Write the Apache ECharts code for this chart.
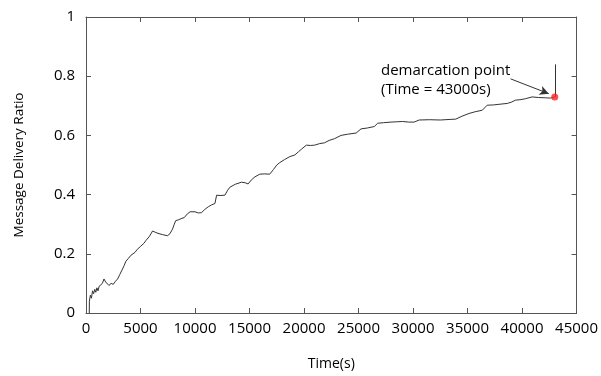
<!DOCTYPE html>
<html>
<head>
<meta charset="utf-8">
<script src="https://cdn.jsdelivr.net/npm/echarts@6/dist/echarts.min.js"></script>
<style>html,body{margin:0;padding:0;background:#fff}#c{width:601px;height:376px}</style>
</head>
<body>
<div id="c"></div>
<script>
var times = [300,310,400,500,600,700,800,900,1000,1100,1200,1350,1500,1650,1800,1950,2100,2300,2500,2700,2900,3100,3300,3500,3660,3900,4120,4300,4500,4700,5030,5300,5500,5800,6000,6100,6400,6700,7000,7470,7700,7930,8100,8230,8500,8800,9000,9300,9550,10000,10300,10600,10900,11220,11500,11830,11980,12300,12740,13000,13200,13700,14270,14600,14870,15180,15500,15940,16400,16850,17200,17500,17770,18200,18680,19160,19500,19750,20210,20600,20970,21400,21880,22300,22800,23400,24000,24780,25230,25800,26450,26750,27300,27980,28500,29040,29600,30100,30260,30560,31500,32500,33400,33920,34500,35130,35700,36350,36800,37400,37880,38640,39000,39400,39900,40320,40920,41500,42150,42600,43000];
var ratios = [0,0.04,0.06,0.05,0.075,0.065,0.08,0.07,0.085,0.075,0.09,0.085,0.1,0.115,0.105,0.1,0.093,0.1,0.097,0.107,0.115,0.13,0.145,0.16,0.175,0.185,0.195,0.2,0.205,0.215,0.226,0.235,0.245,0.258,0.27,0.277,0.272,0.268,0.265,0.261,0.268,0.283,0.3,0.312,0.315,0.32,0.322,0.335,0.342,0.342,0.338,0.339,0.35,0.359,0.365,0.37,0.398,0.397,0.398,0.415,0.425,0.435,0.442,0.44,0.436,0.45,0.46,0.469,0.47,0.469,0.485,0.5,0.508,0.518,0.528,0.534,0.545,0.553,0.567,0.566,0.567,0.572,0.575,0.583,0.589,0.6,0.604,0.608,0.622,0.625,0.63,0.641,0.643,0.645,0.646,0.647,0.645,0.645,0.643,0.652,0.653,0.652,0.654,0.655,0.665,0.674,0.68,0.685,0.702,0.703,0.705,0.708,0.712,0.719,0.721,0.724,0.73,0.728,0.727,0.726,0.73];
var xTicks = [0,5000,10000,15000,20000,25000,30000,35000,40000,45000];
var yTicks = [0,0.2,0.4,0.6,0.8,1];
var demarcation = [43000, 0.73];
var markerTop = 0.84;
var arrowFrom = [38950, 0.791];
var arrowTo = [42450, 0.741];
var labelAt = [27060, 0.786];
var labelLines = ['demarcation point', '(Time = 43000s)'];

var font = 'Open Sans';
var axisColor = '#555';
var lineData = times.map(function(t, i){ return [t, ratios[i]]; });

var chart = echarts.init(document.getElementById('c'), null, {renderer:'canvas'});
function baseAxis(extra){
  return Object.assign({
    type:'value',
    axisLine:{show:true, onZero:false, lineStyle:{color:axisColor, width:1}},
    axisTick:{show:true, inside:true, length:5, lineStyle:{color:axisColor}},
    splitLine:{show:false}
  }, extra);
}
chart.setOption({
  animation:false,
  backgroundColor:'#fff',
  grid:{left:86, right:23, top:17, bottom:58},
  xAxis:[
    baseAxis({min:xTicks[0], max:xTicks[xTicks.length-1], interval:5000, position:'bottom',
      name:'Time(s)', nameLocation:'middle', nameGap:44,
      nameTextStyle:{fontFamily:font, fontSize:14, color:'#000'},
      axisLabel:{fontFamily:font, fontSize:15, color:'#000', margin:8, formatter:function(v){return String(v);}}}),
    baseAxis({min:xTicks[0], max:xTicks[xTicks.length-1], interval:5000, position:'top', axisLabel:{show:false}})
  ],
  yAxis:[
    baseAxis({min:yTicks[0], max:yTicks[yTicks.length-1], interval:0.2, position:'left',
      name:'Message Delivery Ratio', nameLocation:'middle', nameGap:60,
      nameTextStyle:{fontFamily:font, fontSize:13.5, color:'#000'},
      axisLabel:{fontFamily:font, fontSize:15, color:'#000', margin:11, formatter:function(v){return String(Math.round(v*10)/10);}}}),
    baseAxis({min:yTicks[0], max:yTicks[yTicks.length-1], interval:0.2, position:'right', axisLabel:{show:false}})
  ],
  series:[
    {
      type:'line', data:lineData, showSymbol:false, symbol:'none',
      lineStyle:{color:'#333', width:1}, z:2,
      markLine:{
        silent:true, animation:false,
        label:{show:false},
        data:[
          [{coord:demarcation, symbol:'none'}, {coord:[demarcation[0], markerTop], symbol:'none'}],
          [{coord:arrowFrom, symbol:'none'}, {coord:arrowTo, symbol:'arrow', symbolSize:[7,9]}]
        ],
        lineStyle:{color:'#333', width:1, type:'solid'}
      },
      markPoint:{
        silent:true, animation:false,
        data:[{coord:labelAt, symbol:'circle', symbolSize:0,
          label:{show:true, position:'right', distance:0, formatter:labelLines.join('\n'),
            fontFamily:font, fontSize:15, lineHeight:19, color:'#000', align:'left'}}]
      }
    },
    {
      type:'scatter', data:[demarcation], symbol:'circle', symbolSize:7,
      itemStyle:{color:'#f22'}, z:5
    }
  ]
});
</script>
</body>
</html>
